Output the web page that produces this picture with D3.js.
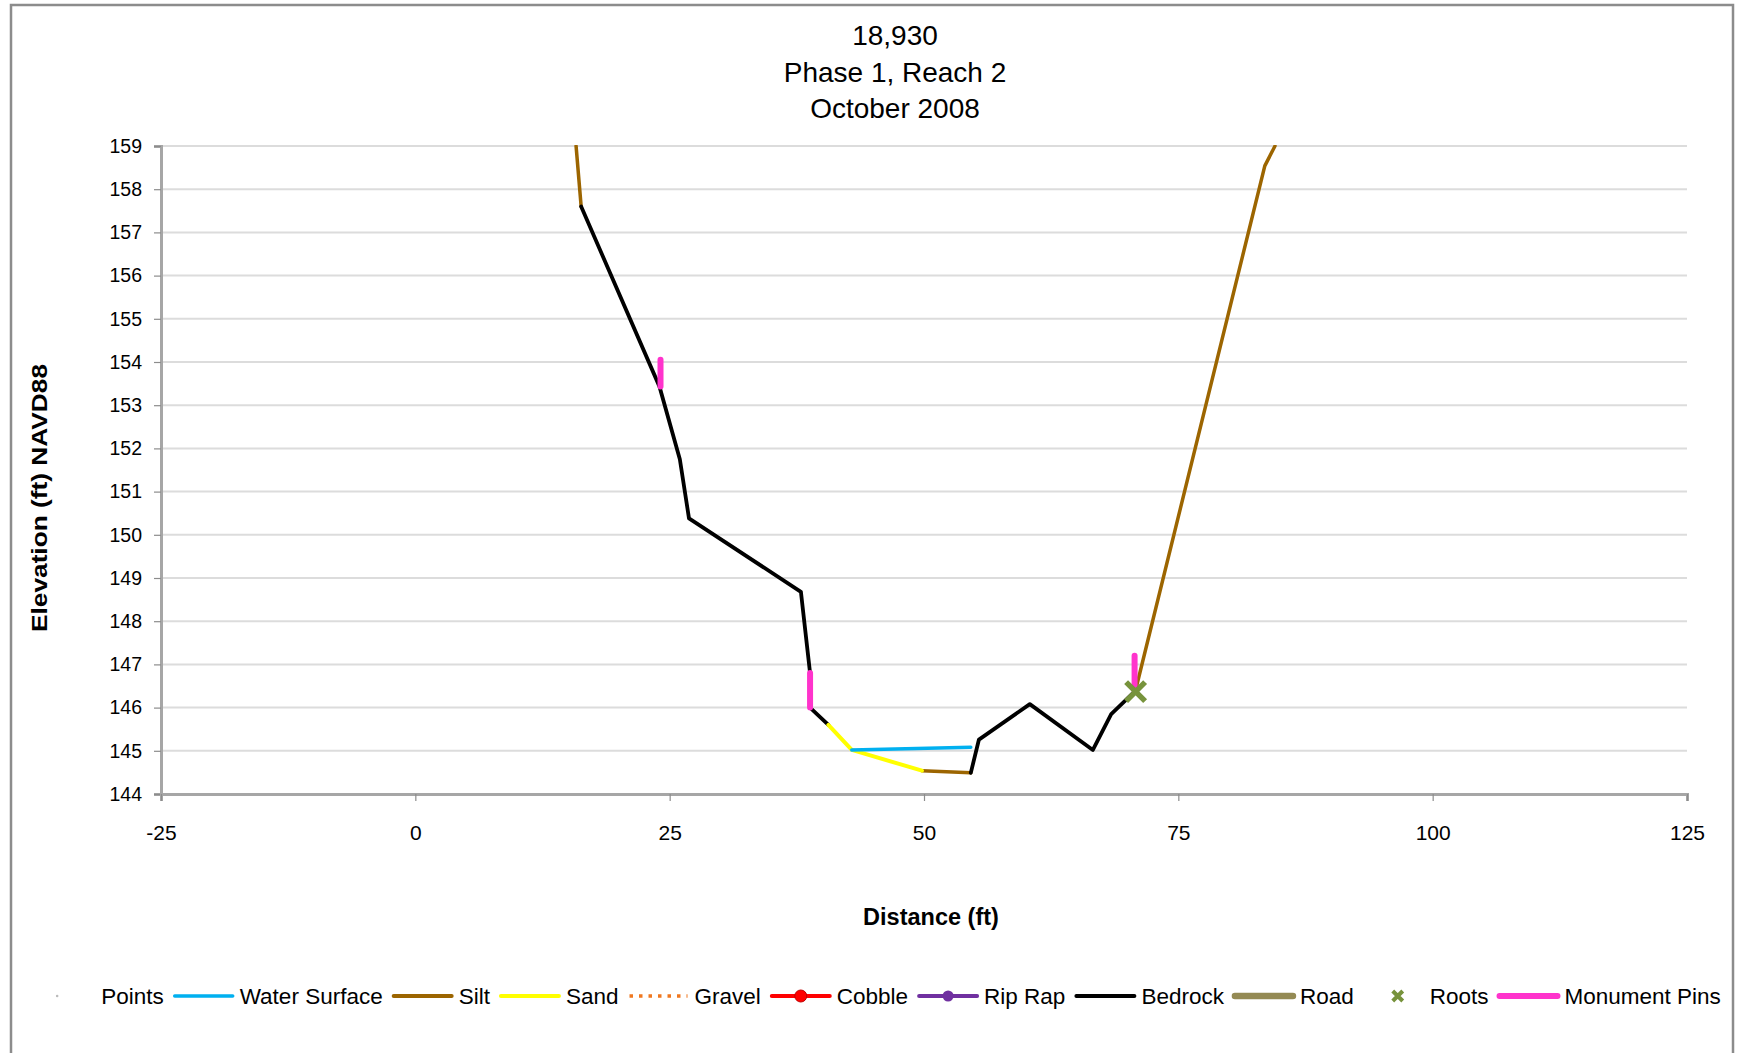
<!DOCTYPE html>
<html>
<head>
<meta charset="utf-8">
<script src="https://cdn.jsdelivr.net/npm/d3@7"></script>
<style>
  body { margin: 0; background: #fff; }
  text { font-family: "Liberation Sans", Arial, sans-serif; fill: #000; }
</style>
</head>
<body>
<svg width="1739" height="1053"></svg>
<script>
const svg = d3.select('svg');
const width = +svg.attr('width');
const height = +svg.attr('height');

// TITLES
const titleLines = ['18,930', 'Phase 1, Reach 2', 'October 2008'];
const xTitle = 'Distance (ft)';
const yTitle = 'Elevation (ft) NAVD88';

// AXES
const xTicks = [-25, 0, 25, 50, 75, 100, 125];
const yTicks = [144, 145, 146, 147, 148, 149, 150, 151, 152, 153, 154, 155, 156, 157, 158, 159];

// SERIES  [distance, elevation], null = gap
const points = [];
const waterSurface = [[42.9, 145.02], [54.6, 145.08]];
const silt = [[15.8, 159.0], [16.3, 157.6], null,
              [49.8, 144.54], [54.6, 144.49], null,
              [70.9, 146.5], [83.5, 158.54], [84.5, 159.0]];
const sand = [[40.6, 145.6], [42.9, 145.02], [49.8, 144.54]];
const gravel = [];
const cobble = [];
const ripRap = [];
const bedrock = [[16.3, 157.6], [24.0, 153.43], [26.0, 151.75], [26.9, 150.38], [37.9, 148.68],
                 [38.8, 146.8], [38.8, 146.0], [40.6, 145.6], null,
                 [54.6, 144.49], [55.4, 145.26], [60.4, 146.08], [66.6, 145.02], [68.4, 145.85], [70.7, 146.37]];
const road = [];
const roots = [[70.8, 146.37]];
const monumentPins = [[24.1, 154.05], [24.1, 153.43], null,
                      [38.8, 146.8], [38.8, 146.0], null,
                      [70.7, 147.2], [70.7, 146.4]];

const legendNames = ['Points', 'Water Surface', 'Silt', 'Sand', 'Gravel', 'Cobble',
                     'Rip Rap', 'Bedrock', 'Road', 'Roots', 'Monument Pins'];

// background + frame
svg.append('rect').attr('width', width).attr('height', height).attr('fill', '#fff');
svg.append('rect')
    .attr('x', 11).attr('y', 5)
    .attr('width', 1722).attr('height', 1060)
    .attr('fill', 'none')
    .attr('stroke', '#8c8c8c')
    .attr('stroke-width', 2.5);

const plotLeft = 161, plotRight = 1687, plotTop = 146, plotBottom = 794;

const x = d3.scaleLinear().domain([-25, 125]).range([plotLeft, plotRight]);
const y = d3.scaleLinear().domain([144, 159]).range([plotBottom, plotTop]);

// title
svg.append('g').selectAll('text')
  .data(titleLines)
  .join('text')
    .attr('x', 895)
    .attr('y', (d, i) => 45 + i * 36.5)
    .attr('text-anchor', 'middle')
    .style('font-size', '28px')
    .text(d => d);

// gridlines
svg.append('g').selectAll('line')
  .data(yTicks.filter(d => d > 144))
  .join('line')
    .attr('x1', plotLeft).attr('x2', plotRight)
    .attr('y1', d => y(d)).attr('y2', d => y(d))
    .attr('stroke', '#dcdcdc')
    .attr('stroke-width', 2);

// y axis
const yAxis = svg.append('g')
    .attr('transform', `translate(${plotLeft},0)`)
    .call(d3.axisLeft(y).tickValues(yTicks).tickSize(7).tickPadding(12).tickFormat(d => String(d)));
yAxis.select('.domain').attr('stroke', '#a6a6a6').attr('stroke-width', 3);
yAxis.selectAll('.tick line').attr('stroke', '#8c8c8c').attr('stroke-width', 1.2);
yAxis.selectAll('.tick text').style('font-size', '19.5px').style('font-family', '"Liberation Sans", Arial, sans-serif');

// x axis
const xAxis = svg.append('g')
    .attr('transform', `translate(0,${plotBottom})`)
    .call(d3.axisBottom(x).tickValues(xTicks).tickSize(7).tickPadding(24).tickFormat(d => String(d)));
xAxis.select('.domain').attr('stroke', '#a6a6a6').attr('stroke-width', 3);
xAxis.selectAll('.tick line').attr('stroke', '#8c8c8c').attr('stroke-width', 1.2);
xAxis.selectAll('.tick text').style('font-size', '21px').style('font-family', '"Liberation Sans", Arial, sans-serif');

// axis titles
svg.append('text')
    .attr('x', 931).attr('y', 925)
    .attr('text-anchor', 'middle')
    .style('font-size', '23.5px').style('font-weight', 'bold')
    .text(xTitle);
svg.append('text')
    .attr('transform', 'translate(47,498) rotate(-90)')
    .attr('text-anchor', 'middle')
    .attr('textLength', 268)
    .attr('lengthAdjust', 'spacingAndGlyphs')
    .style('font-size', '22px').style('font-weight', 'bold')
    .text(yTitle);

// clip to plot
svg.append('clipPath').attr('id', 'plot')
  .append('rect').attr('x', plotLeft).attr('y', plotTop - 1)
    .attr('width', plotRight - plotLeft).attr('height', plotBottom - plotTop + 1);

const plot = svg.append('g').attr('clip-path', 'url(#plot)');

const line = d3.line()
    .defined(d => d)
    .x(d => x(d[0]))
    .y(d => y(d[1]));

function drawLine(data, color, w, dash) {
  plot.append('path')
      .datum(data)
      .attr('d', line)
      .attr('fill', 'none')
      .attr('stroke', color)
      .attr('stroke-width', w)
      .attr('stroke-linejoin', 'round')
      .attr('stroke-linecap', 'round')
      .attr('stroke-dasharray', dash || null);
}

drawLine(silt, '#9c6500', 3.5);
drawLine(bedrock, '#000', 3.8);
drawLine(sand, '#ffff00', 4);
drawLine(waterSurface, '#00b0f0', 3.5);
drawLine(gravel, '#f07820', 3, '3,5');
drawLine(cobble, '#ff0000', 4);
drawLine(ripRap, '#7030a0', 4);
drawLine(road, '#948a54', 6);
drawLine(monumentPins, '#ff33cc', 6);

// roots markers
const xMark = s => `M${-s},${-s}L${s},${s}M${-s},${s}L${s},${-s}`;
plot.selectAll('.root')
  .data(roots)
  .join('path')
    .attr('class', 'root')
    .attr('transform', d => `translate(${x(d[0])},${y(d[1])})`)
    .attr('d', xMark(9.5))
    .attr('stroke', '#77933c')
    .attr('stroke-width', 5.5);

// LEGEND
const legendY = 996;
const symbolW = 62;
const legend = svg.append('g');
const items = legend.selectAll('g')
  .data(legendNames)
  .join('g');
items.append('text')
    .attr('x', symbolW + 5)
    .attr('y', legendY)
    .attr('dy', '0.35em')
    .style('font-size', '22.5px')
    .text(d => d);

let cursor = 0;
const offsets = [];
items.each(function() {
  offsets.push(cursor);
  cursor += symbolW + 5 + this.querySelector('text').getComputedTextLength() + 9;
});
const legendStart = 882 - cursor / 2;
items.attr('transform', (d, i) => `translate(${legendStart + offsets[i]},0)`);

function legendLine(sel, color, w, dash) {
  sel.append('line')
      .attr('x1', 2).attr('x2', symbolW - 2)
      .attr('y1', legendY).attr('y2', legendY)
      .attr('stroke', color).attr('stroke-width', w)
      .attr('stroke-linecap', dash ? 'butt' : 'round')
      .attr('stroke-dasharray', dash || null);
}

items.each(function(name) {
  const g = d3.select(this);
  if (name === 'Points') {
    g.append('circle').attr('cx', symbolW / 2 - 8).attr('cy', legendY).attr('r', 1.3).attr('fill', '#bbb');
  } else if (name === 'Water Surface') legendLine(g, '#00b0f0', 3.5);
  else if (name === 'Silt') legendLine(g, '#9c6500', 4);
  else if (name === 'Sand') legendLine(g, '#ffff00', 4);
  else if (name === 'Gravel') legendLine(g, '#f07820', 3.5, '3.5,6');
  else if (name === 'Cobble') {
    legendLine(g, '#ff0000', 4);
    g.append('circle').attr('cx', symbolW / 2).attr('cy', legendY).attr('r', 6).attr('fill', '#ff0000').attr('stroke', '#c00000');
  } else if (name === 'Rip Rap') {
    legendLine(g, '#7030a0', 4);
    g.append('circle').attr('cx', symbolW / 2).attr('cy', legendY).attr('r', 5.5).attr('fill', '#7030a0');
  } else if (name === 'Bedrock') legendLine(g, '#000', 4);
  else if (name === 'Road') legendLine(g, '#948a54', 6.5);
  else if (name === 'Roots') {
    g.append('path')
        .attr('transform', `translate(${symbolW / 2 + 4},${legendY})`)
        .attr('d', xMark(5))
        .attr('stroke', '#77933c').attr('stroke-width', 4);
  } else if (name === 'Monument Pins') legendLine(g, '#ff33cc', 6);
});
</script>
</body>
</html>
